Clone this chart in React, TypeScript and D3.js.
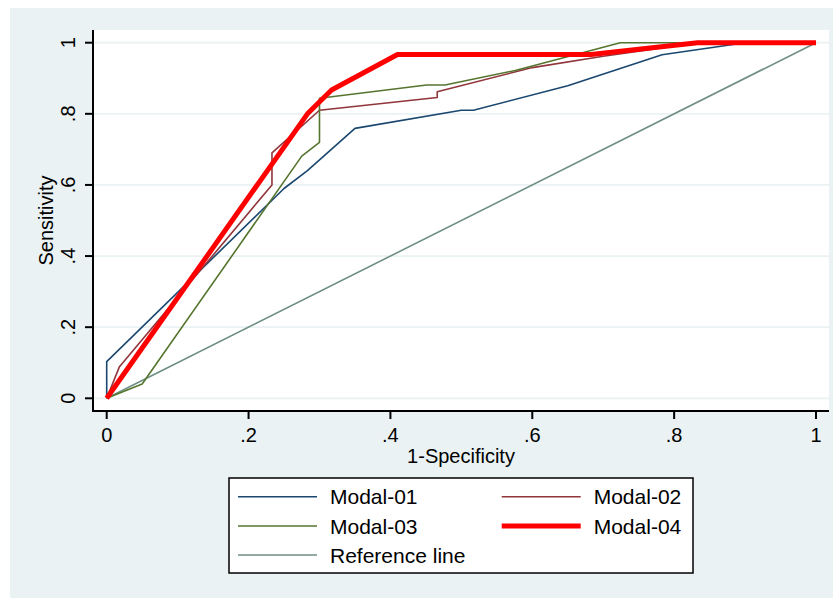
import React from "react";
import * as d3 from "d3";

type Pt = [number, number];

const modal01: Pt[] = [
  [0, 0], [0, 0.103], [0.25, 0.59], [0.283, 0.64], [0.35, 0.759], [0.5, 0.81],
  [0.517, 0.81], [0.65, 0.879], [0.783, 0.966], [0.9, 1.0], [1, 1],
];
const modal02: Pt[] = [
  [0, 0], [0.018, 0.089], [0.233, 0.6], [0.233, 0.69], [0.3, 0.81], [0.466, 0.846],
  [0.466, 0.862], [0.6, 0.93], [0.7, 0.962], [0.8, 0.99], [0.85, 1.0], [1, 1],
];
const modal03: Pt[] = [
  [0, 0], [0.05, 0.04], [0.275, 0.681], [0.3, 0.72], [0.3, 0.844], [0.451, 0.881],
  [0.477, 0.881], [0.576, 0.922], [0.724, 1.0], [1, 1],
];
const modal04: Pt[] = [
  [0, 0], [0.283, 0.8], [0.317, 0.867], [0.41, 0.967], [0.683, 0.967], [0.833, 1.0], [1, 1],
];
const referenceLine: Pt[] = [[0, 0], [1, 1]];

const xTicks = [0, 0.2, 0.4, 0.6, 0.8, 1];
const yTicks = [0, 0.2, 0.4, 0.6, 0.8, 1];
const tickLabels = ["0", ".2", ".4", ".6", ".8", "1"];

const seriesNames = ["Modal-01", "Modal-02", "Modal-03", "Modal-04", "Reference line"];
const seriesColors = ["#1a476f", "#90353b", "#55752f", "#ff0000", "#6e8e84"];
const seriesWidths = [1.6, 1.6, 1.6, 5, 1.6];
const seriesData = [modal01, modal02, modal03, modal04, referenceLine];

const W = 838;
const H = 598;
const FONT = "'Liberation Sans', Arial, sans-serif";

export default function App() {
  const plot = { left: 93, right: 829, top: 30, bottom: 411 };
  const x = d3.scaleLinear().domain([0, 1]).range([106.7, 816]);
  const y = d3.scaleLinear().domain([0, 1]).range([398.3, 42.7]);
  const line = d3
    .line<Pt>()
    .x((d) => x(d[0]))
    .y((d) => y(d[1]));

  // draw order: reference first then models, red on top
  const order = [4, 0, 1, 2, 3];

  const legend = { x: 229, y: 478, w: 464, h: 95 };
  const legendRows = [496.7, 526, 555];
  const legendCols = [238, 501.7];
  const legendPos: [number, number][] = [
    [0, 0], [1, 0], [0, 1], [1, 1], [0, 2],
  ];

  return (
    <svg
      width={W}
      height={H}
      style={{ position: "absolute", left: 0, top: 0, display: "block" }}
      fontFamily={FONT}
    >
      <rect x={0} y={0} width={W} height={H} fill="#ffffff" />
      <rect x={10} y={8} width={823} height={590} fill="#eaf2f3" />
      <rect
        x={plot.left}
        y={plot.top}
        width={plot.right - plot.left}
        height={plot.bottom - plot.top}
        fill="#ffffff"
      />
      {yTicks.map((t) => (
        <line
          key={"g" + t}
          x1={plot.left}
          x2={plot.right}
          y1={y(t)}
          y2={y(t)}
          stroke="#eaf2f3"
          strokeWidth={1.8}
        />
      ))}
      {order.map((i) => (
        <path
          key={seriesNames[i]}
          d={line(seriesData[i]) || ""}
          fill="none"
          stroke={seriesColors[i]}
          strokeWidth={seriesWidths[i]}
          strokeLinejoin="round"
        />
      ))}
      {/* axes */}
      <line x1={plot.left} x2={plot.left} y1={plot.top} y2={plot.bottom + 1} stroke="#000" strokeWidth={2} />
      <line x1={plot.left - 1} x2={plot.right} y1={plot.bottom} y2={plot.bottom} stroke="#000" strokeWidth={2} />
      {yTicks.map((t, i) => (
        <g key={"yt" + t}>
          <line x1={plot.left - 8} x2={plot.left} y1={y(t)} y2={y(t)} stroke="#000" strokeWidth={2} />
          <text
            transform={`translate(68,${y(t)}) rotate(-90)`}
            textAnchor="middle"
            dy="0.36em"
            fontSize={20}
            fill="#000"
          >
            {tickLabels[i]}
          </text>
        </g>
      ))}
      {xTicks.map((t, i) => (
        <g key={"xt" + t}>
          <line x1={x(t)} x2={x(t)} y1={plot.bottom} y2={plot.bottom + 8} stroke="#000" strokeWidth={2} />
          <text x={x(t)} y={442} textAnchor="middle" fontSize={20} fill="#000">
            {tickLabels[i]}
          </text>
        </g>
      ))}
      <text x={461} y={463} textAnchor="middle" fontSize={20} fill="#000">
        1-Specificity
      </text>
      <text
        transform={`translate(46,${(plot.top + plot.bottom) / 2}) rotate(-90)`}
        textAnchor="middle"
        dy="0.36em"
        fontSize={20}
        fill="#000"
      >
        Sensitivity
      </text>
      {/* legend */}
      <rect
        x={legend.x}
        y={legend.y}
        width={legend.w}
        height={legend.h}
        fill="#ffffff"
        stroke="#000"
        strokeWidth={1.5}
      />
      {seriesNames.map((name, i) => {
        const [c, r] = legendPos[i];
        const lx = legendCols[c];
        const ly = legendRows[r];
        return (
          <g key={"lg" + name}>
            <line
              x1={lx}
              x2={lx + 79}
              y1={ly}
              y2={ly}
              stroke={seriesColors[i]}
              strokeWidth={seriesWidths[i]}
            />
            <text x={lx + 92} y={ly} dy="0.36em" fontSize={21} fill="#000">
              {name}
            </text>
          </g>
        );
      })}
    </svg>
  );
}
